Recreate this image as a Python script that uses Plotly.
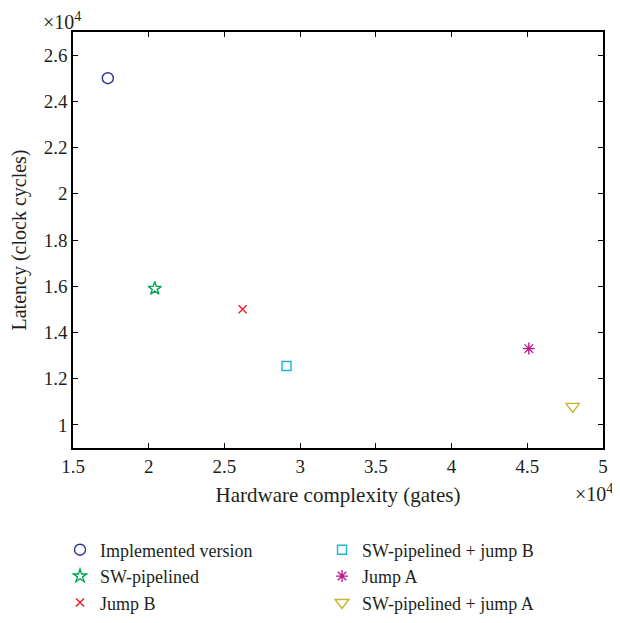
import plotly.graph_objects as go

names = ["Implemented version", "SW-pipelined", "Jump B",
         "SW-pipelined + jump B", "Jump A", "SW-pipelined + jump A"]
gates = [17300, 20400, 26200, 29100, 45100, 48000]
latency = [25000, 15900, 15000, 12550, 13300, 10800]
symbols = ["circle-open", "star-open", "x-thin-open", "square-open", "asterisk-open", "triangle-down-open"]
colors = ["#2e3192", "#00a651", "#ed1c24", "#1cb5d8", "#c0188c", "#c8b42a"]
sizes = [11, 10, 8, 9, 10, 12]

x_ticks = [1.5, 2, 2.5, 3, 3.5, 4, 4.5, 5]
y_ticks = [1, 1.2, 1.4, 1.6, 1.8, 2, 2.2, 2.4, 2.6]

# legend order arranged so that two-per-row fills column-wise
legend_order = [0, 3, 1, 4, 2, 5]

FONT = "Liberation Serif"
TXT = "#231f20"
fig = go.Figure()
for i in legend_order:
    fig.add_trace(go.Scatter(
        x=[gates[i] / 1e4], y=[latency[i] / 1e4], mode="markers", name=names[i],
        marker=dict(symbol=symbols[i], size=sizes[i], color=colors[i],
                    line=dict(width=1.4, color=colors[i])),
    ))

axis_common = dict(showline=True, linecolor="black", linewidth=1.5, mirror="ticks",
                   ticks="inside", ticklen=5, tickwidth=1.2, tickcolor="black",
                   showgrid=False, zeroline=False,
                   tickfont=dict(family=FONT, size=19, color=TXT))
fig.update_xaxes(range=[1.5, 5], tickvals=x_ticks, ticktext=[f"{v:g}" for v in x_ticks],
                 title=dict(text="Hardware complexity (gates)", font=dict(family=FONT, size=21, color=TXT),
                            standoff=12),
                 **axis_common)
fig.update_yaxes(range=[0.9, 2.7], tickvals=y_ticks, ticktext=[f"{v:g}" for v in y_ticks],
                 title=dict(text="Latency (clock cycles)", font=dict(family=FONT, size=20, color=TXT),
                            standoff=17),
                 **axis_common)

fig.add_annotation(text="×10<sup>4</sup>", xref="paper", yref="paper", x=0, y=1.0,
                   xanchor="right", yanchor="bottom", xshift=10, yshift=-3, showarrow=False,
                   font=dict(family=FONT, size=20, color=TXT))
fig.add_annotation(text="×10<sup>4</sup>", xref="paper", yref="paper", x=1.0, y=0,
                   xanchor="right", yanchor="top", xshift=12, yshift=-31, showarrow=False,
                   font=dict(family=FONT, size=20, color=TXT))

# page body has an 8px default margin, so the figure is sized/offset to compensate
fig.update_layout(
    width=612, height=615,
    margin=dict(l=65, r=17, t=24, b=175, autoexpand=False),
    paper_bgcolor="white", plot_bgcolor="white",
    font=dict(family=FONT, size=19, color=TXT),
    legend=dict(orientation="h", x=-0.0245, xanchor="left", y=-0.2007, yanchor="top",
                entrywidth=217, entrywidthmode="pixels", tracegroupgap=0,
                itemwidth=30, font=dict(family=FONT, size=18, color=TXT)),
)

fig.write_html("out.html")
